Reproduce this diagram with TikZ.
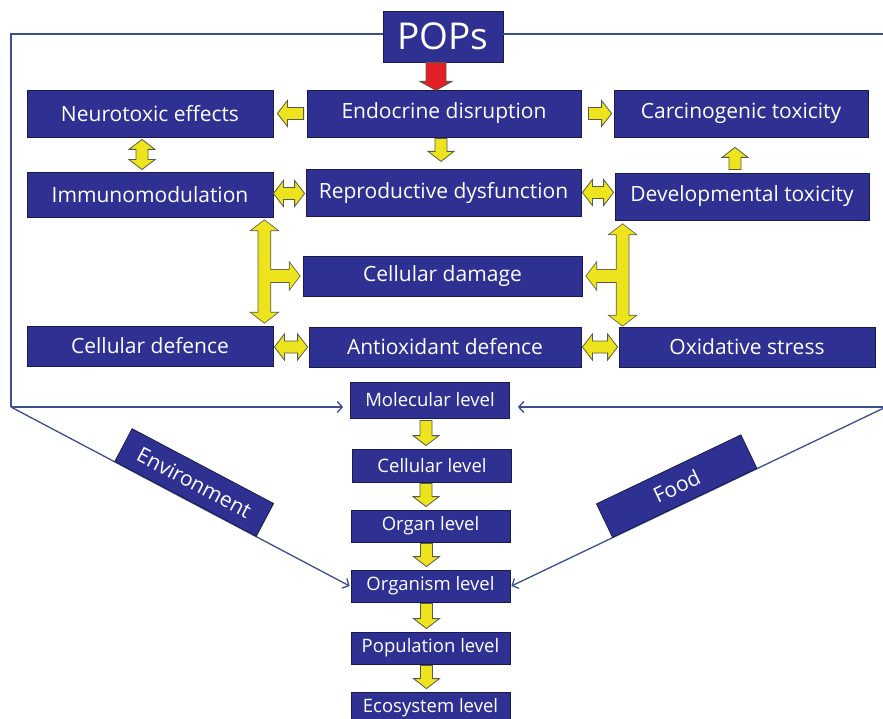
\documentclass[tikz,border=0pt]{standalone}
\usepackage{fontspec}
\setmainfont{Open Sans}
\usetikzlibrary{calc,arrows.meta}
\definecolor{boxblue}{HTML}{2E3192}
\definecolor{boxline}{HTML}{1B1B4B}
\definecolor{arryellow}{HTML}{EEE41D}
\definecolor{arrline}{HTML}{5A5A4A}
\definecolor{arrred}{HTML}{E31E24}
\definecolor{connblue}{HTML}{3B4F8C}
\def\yaSW{6pt}\def\yaHW{13pt}\def\yaHL{10pt}
\newcommand\sarr[3][]{%
  \coordinate (ya) at (#2); \coordinate (yb) at (#3);
  \coordinate (yc) at ($(yb)!\yaHL!(ya)$);
  \path[yarr,#1] ($(ya)!\yaSW!90:(yb)$) -- ($(yc)!\yaSW!90:(yb)$) -- ($(yc)!\yaHW!90:(yb)$) -- (yb)
     -- ($(yc)!\yaHW!-90:(yb)$) -- ($(yc)!\yaSW!-90:(yb)$) -- ($(ya)!\yaSW!-90:(yb)$) -- cycle;}
\newcommand\darr[3][]{%
  \coordinate (ya) at (#2); \coordinate (yb) at (#3);
  \coordinate (yc) at ($(yb)!\yaHL!(ya)$); \coordinate (yd) at ($(ya)!\yaHL!(yb)$);
  \path[yarr,#1] (ya) -- ($(yd)!\yaHW!90:(yb)$) -- ($(yd)!\yaSW!90:(yb)$) -- ($(yc)!\yaSW!90:(yb)$)
     -- ($(yc)!\yaHW!90:(yb)$) -- (yb) -- ($(yc)!\yaHW!-90:(yb)$) -- ($(yc)!\yaSW!-90:(yb)$)
     -- ($(yd)!\yaSW!-90:(yb)$) -- ($(yd)!\yaHW!-90:(yb)$) -- cycle;}
\tikzset{
  box/.style={draw=boxline, fill=boxblue, text=white, line width=0.8pt, inner sep=0pt,
    font=\fontsize{21}{24}\selectfont},
  lvl/.style={box, minimum width=159pt, minimum height=32pt, font=\fontsize{18.5}{21}\selectfont},
  yarr/.style={fill=arryellow, draw=arrline, line width=0.8pt, line join=miter},
  conn/.style={draw=connblue, line width=1.3pt},
  tip/.style={-{Straight Barb[length=5pt,width=11pt]}},
  tagbox/.style={box, minimum width=160pt, minimum height=37pt, font=\fontsize{21}{24}\selectfont}
}
\begin{document}
\begin{tikzpicture}[x=1pt,y=-1pt]
\useasboundingbox (0,0) rectangle (883,719);
\fill[white] (0,0) rectangle (883,719);
% nodes
\node[box, minimum width=120pt, minimum height=51pt, font=\fontsize{37}{40}\selectfont] (pops) at (443,36.5) {POPs};
\node[box, minimum width=246pt, minimum height=47pt] (neuro) at (150,113.5) {Neurotoxic effects};
\node[box, minimum width=274pt, minimum height=47pt] (endo) at (444,113.5) {Endocrine disruption};
\node[box, minimum width=254pt, minimum height=47pt] (carc) at (741,113.5) {Carcinogenic toxicity};
\node[box, minimum width=246pt, minimum height=45pt] (immuno) at (150,194.5) {Immunomodulation};
\node[box, minimum width=275pt, minimum height=47pt] (repro) at (443.5,192.5) {Reproductive dysfunction};
\node[box, minimum width=254pt, minimum height=47pt] (devel) at (742,196.5) {Developmental toxicity};
\node[box, minimum width=279pt, minimum height=40pt] (celldam) at (442.5,276) {Cellular damage};
\node[box, minimum width=246pt, minimum height=40pt] (celldef) at (150,346) {Cellular defence};
\node[box, minimum width=272pt, minimum height=40pt] (antiox) at (445,347) {Antioxidant defence};
\node[box, minimum width=256pt, minimum height=40pt] (oxid) at (747,347) {Oxidative stress};
\node[lvl, minimum height=36pt] (molec) at (430,400) {Molecular level};
\node[lvl, minimum height=33pt] (cellv) at (432,465.5) {Cellular level};
\node[lvl] (organ) at (430.5,526) {Organ level};
\node[lvl] (organism) at (430.5,586) {Organism level};
\node[lvl] (popl) at (430.5,648) {Population level};
\node[lvl] (eco) at (430.5,708) {Ecosystem level};
% blue connectors
\coordinate (tl) at (11,34);
\coordinate (bl) at (11,407);
\coordinate (tr) at (886,34);
\coordinate (br) at (886,407);
\draw[conn] (pops.west |- tl) -- (tl) -- (bl);
\draw[conn,tip] (bl) -- ($(molec.west |- bl)+(-7,0)$);
\draw[conn,tip] (bl) -- node[sloped, above, pos=0.515, tagbox] (env) {Environment} ($(organism.west)+(-1,0)$);
\draw[conn] (pops.east |- tr) -- (tr) -- (br);
\draw[conn,tip] (br) -- ($(molec.east |- br)+(8,0)$);
\draw[conn,tip] (br) -- node[sloped, above, pos=0.537, tagbox] (food) {Food} ($(organism.east)+(1,0)$);
% red arrow
{\def\yaSW{10pt}\def\yaHW{16pt}\def\yaHL{9pt}
\sarr[fill=arrred]{$(pops.south)+(-7,0)$}{$(pops.south -| endo.north)+(-8,28)$}}
% yellow arrows
\sarr{$(endo.west)+(-3,0)$}{$(neuro.east)+(4,0)$}
\sarr{$(endo.east)+(7,0)$}{$(carc.west)+(-2,0)$}
\sarr{$(endo.south)+(-3,1)$}{$(endo.south)+(-3,24)$}
\darr{$(neuro.south)+(-8,2)$}{$(neuro.south |- immuno.north)+(-8,-2)$}
\darr{$(immuno.east)+(0,-1)$}{$(immuno.east -| repro.west)+(-1,-1)$}
\darr{$(repro.east)+(1,0)$}{$(repro.east -| devel.west)+(-1,0)$}
\sarr{$(devel.north)+(-7,-3)$}{$(devel.north |- carc.south)+(-7,10)$}
\darr{$(celldef.east)+(1,1)$}{$(celldef.east -| antiox.west)+(-1,1)$}
\darr{$(antiox.east)+(1,0)$}{$(antiox.east -| oxid.west)+(-1,0)$}
% T arrows
\coordinate (lt) at ($(immuno.south east)+(-9,3)$);
\coordinate (lb) at ($(celldef.north east)+(-9,-3)$);
\coordinate (lj) at (lt |- celldam.west);
\coordinate (le) at ($(celldam.west)+(-3,0)$);
\coordinate (rt) at ($(devel.south west)+(8,4)$);
\coordinate (rb) at ($(rt |- oxid.north)+(0,-1)$);
\coordinate (rj) at (rt |- celldam.east);
\coordinate (re) at ($(celldam.east)+(4,0)$);
\darr[fill=none, line width=1.6pt]{lt}{lb}
\sarr[fill=none, line width=1.6pt]{lj}{le}
\darr[draw=none]{lt}{lb}
\sarr[draw=none]{lj}{le}
\darr[fill=none, line width=1.6pt]{rt}{rb}
\sarr[fill=none, line width=1.6pt]{rj}{re}
\darr[draw=none]{rt}{rb}
\sarr[draw=none]{rj}{re}
% level arrows
\sarr{$(molec.south)+(-4,2)$}{$(molec.south |- cellv.north)+(-4,-3)$}
\sarr{$(cellv.south)+(-6,1)$}{$(cellv.south |- organ.north)+(-6,-3)$}
\sarr{$(organ.south)+(-4,1)$}{$(organ.south |- organism.north)+(-4,-3)$}
\sarr{$(organism.south)+(-4,1)$}{$(organism.south |- popl.north)+(-4,-3)$}
\sarr{$(popl.south)+(-4,1)$}{$(popl.south |- eco.north)+(-4,-3)$}
\end{tikzpicture}
\end{document}
